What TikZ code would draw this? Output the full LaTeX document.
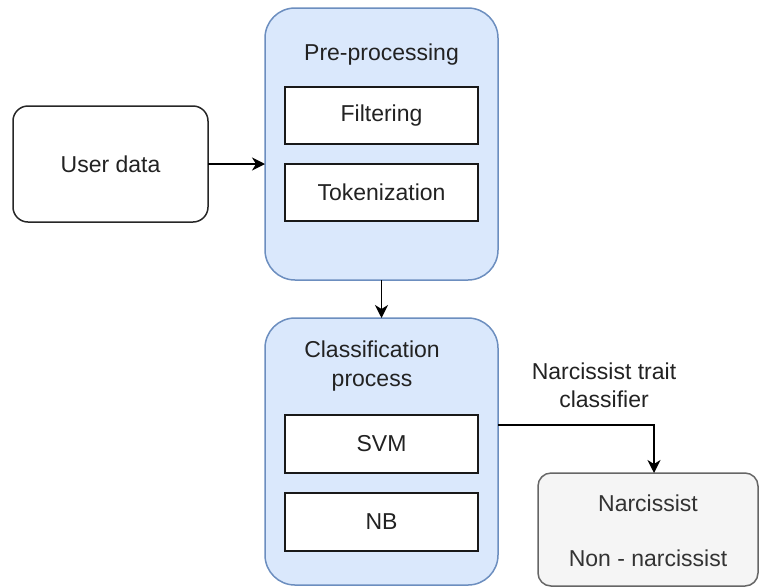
\documentclass[tikz,border=0pt]{standalone}
\usepackage{fontspec}
\setmainfont{Liberation Sans}
\usetikzlibrary{arrows.meta}
\definecolor{bluefill}{HTML}{DAE8FC}
\definecolor{bluedraw}{HTML}{6C8EBF}
\definecolor{greyfill}{HTML}{F5F5F5}
\definecolor{greydraw}{HTML}{666666}
\definecolor{greytext}{HTML}{333333}
\definecolor{inktext}{HTML}{222222}
\tikzset{
  base/.style={inner sep=0pt, outer sep=0pt, line width=1.5pt},
  txt/.style={font=\fontsize{23}{28.5}\selectfont, text=inktext, align=center, inner sep=0pt},
  inputbox/.style={base, draw=black!85, fill=white, rounded corners=15pt},
  groupbox/.style={base, draw=bluedraw, fill=bluefill, rounded corners=30pt},
  stepbox/.style={base, draw=black!90, fill=white, minimum width=193pt, minimum height=57pt},
  outbox/.style={base, draw=greydraw, fill=greyfill, rounded corners=13pt},
  link/.style={line width=1.5pt, draw=black, -{Stealth[length=13pt, width=13pt, inset=4pt]}}
}
\begin{document}
\begin{tikzpicture}[x=1pt, y=-1pt]
  \useasboundingbox (0,0) rectangle (759,587);

  % input
  \node[inputbox, minimum width=195pt, minimum height=116pt] (user) at (110.5,164) {};
  \node[txt] (usertxt) at (110.5,164) {User data};

  % pre-processing stage
  \node[groupbox, minimum width=233pt, minimum height=272pt] (pre) at (381.5,144) {};
  \node[txt] (pretxt) at (381.5,55) {Pre-processing};
  \node[stepbox] (filt) at (381.5,115.5) {};
  \node[txt] (filttxt) at (381.5,115.5) {Filtering};
  \node[stepbox] (tok) at (381.5,192.5) {};
  \node[txt] (toktxt) at (381.5,192.5) {Tokenization};

  % classification stage
  \node[groupbox, minimum width=233pt, minimum height=267pt] (cls) at (381.5,451.5) {};
  \node[txt] (clstxt) at (372,366) {Classification\\process};
  \node[stepbox, minimum height=58pt] (svm) at (381.5,444) {};
  \node[txt] (svmtxt) at (381.5,444) {SVM};
  \node[stepbox, minimum height=58pt] (nb) at (381.5,522) {};
  \node[txt] (nbtxt) at (381.5,522) {NB};

  % result
  \node[outbox, minimum width=220pt, minimum height=113pt] (res) at (648,529.5) {};
  \node[txt, text=greytext] (narc) at (648,503) {Narcissist};
  \node[txt, text=greytext] (nonnarc) at (648,558) {Non - narcissist};

  % connectors
  \draw[link] (user.east) -- (pre.west |- user.east);
  \draw[link] (pre.south) -- (cls.north);
  \coordinate (bend) at (654,425);
  \draw[link] (cls.east |- bend) -- (bend) -- (bend |- res.north);
  \node[txt] (lbl) at (604,385.5) {Narcissist trait\\classifier};
\end{tikzpicture}
\end{document}
